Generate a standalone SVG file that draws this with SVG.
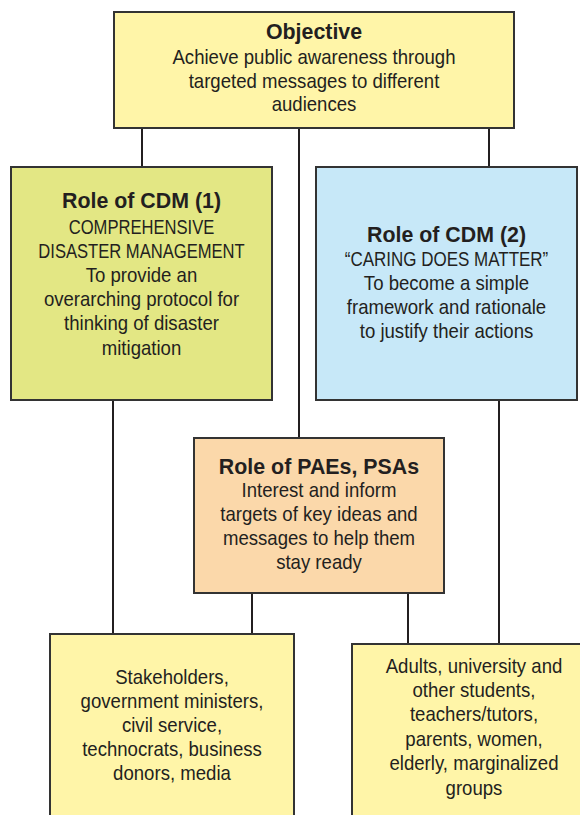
<svg xmlns="http://www.w3.org/2000/svg" width="580" height="815" viewBox="0 0 580 815">
<style>
.box{stroke:#333;stroke-width:2}
.t{font-family:"Liberation Sans",Arial,sans-serif;font-size:20px;fill:#231f20;text-anchor:middle}
.h{font-weight:bold;font-size:23px}
.c{stroke:#231f20;stroke-width:2;fill:none}
</style>
<rect width="580" height="815" fill="#fff"/>
<g id="connectors">
<line class="c" x1="142" y1="128" x2="142" y2="167"/>
<line class="c" x1="299" y1="128" x2="299" y2="438"/>
<line class="c" x1="489" y1="128" x2="489" y2="167"/>
<line class="c" x1="113" y1="400" x2="113" y2="634"/>
<line class="c" x1="499" y1="400" x2="499" y2="644"/>
<line class="c" x1="252" y1="593" x2="252" y2="634"/>
<line class="c" x1="408" y1="593" x2="408" y2="644"/>
</g>
<g id="objective">
<rect class="box" x="114" y="12" width="400" height="116" fill="#fff5a8"/>
<text class="t" transform="translate(314 0) scale(0.93 1)"><tspan class="h" x="0" y="39">Objective</tspan><tspan x="0" y="64">Achieve public awareness through</tspan><tspan x="0" y="88">targeted messages to different</tspan><tspan x="0" y="111">audiences</tspan></text>
</g>
<g id="cdm1">
<rect class="box" x="11" y="167" width="261" height="233" fill="#e3e784"/>
<text class="t" transform="translate(141.5 0) scale(0.93 1)"><tspan class="h" x="0" y="208">Role of CDM (1)</tspan></text>
<text class="t" transform="translate(141.5 0) scale(0.83 1)"><tspan x="0" y="234">COMPREHENSIVE</tspan><tspan x="0" y="258">DISASTER MANAGEMENT</tspan></text>
<text class="t" transform="translate(141.5 0) scale(0.93 1)"><tspan x="0" y="282">To provide an</tspan><tspan x="0" y="306">overarching protocol for</tspan><tspan x="0" y="330">thinking of disaster</tspan><tspan x="0" y="355">mitigation</tspan></text>
</g>
<g id="cdm2">
<rect class="box" x="316" y="167" width="261" height="233" fill="#c7e8f8"/>
<text class="t" transform="translate(446.5 0) scale(0.93 1)"><tspan class="h" x="0" y="242">Role of CDM (2)</tspan></text>
<text class="t" transform="translate(446.5 0) scale(0.85 1)"><tspan x="0" y="266">“CARING DOES MATTER”</tspan></text>
<text class="t" transform="translate(446.5 0) scale(0.93 1)"><tspan x="0" y="290">To become a simple</tspan><tspan x="0" y="314">framework and rationale</tspan><tspan x="0" y="338">to justify their actions</tspan></text>
</g>
<g id="paes">
<rect class="box" x="194" y="438" width="250" height="155" fill="#fbd8aa"/>
<text class="t" transform="translate(319 0) scale(0.93 1)"><tspan class="h" x="0" y="474">Role of PAEs, PSAs</tspan><tspan x="0" y="497">Interest and inform</tspan><tspan x="0" y="521">targets of key ideas and</tspan><tspan x="0" y="545">messages to help them</tspan><tspan x="0" y="569">stay ready</tspan></text>
</g>
<g id="audience1">
<rect class="box" x="50" y="634" width="244" height="190" fill="#fff5a8"/>
<text class="t" transform="translate(172 0) scale(0.93 1)"><tspan x="0" y="684">Stakeholders,</tspan><tspan x="0" y="708">government ministers,</tspan><tspan x="0" y="732">civil service,</tspan><tspan x="0" y="756">technocrats, business</tspan><tspan x="0" y="780">donors, media</tspan></text>
</g>
<g id="audience2">
<rect class="box" x="352" y="644" width="240" height="180" fill="#fff5a8"/>
<text class="t" transform="translate(474 0) scale(0.93 1)"><tspan x="0" y="673">Adults, university and</tspan><tspan x="0" y="697">other students,</tspan><tspan x="0" y="721">teachers/tutors,</tspan><tspan x="0" y="746">parents, women,</tspan><tspan x="0" y="770">elderly, marginalized</tspan><tspan x="0" y="795">groups</tspan></text>
</g>
</svg>
